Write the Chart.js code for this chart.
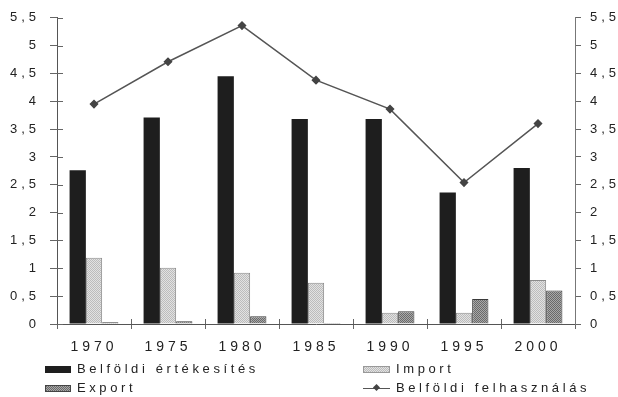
<!DOCTYPE html>
<html>
<head>
<meta charset="utf-8">
<script src="https://cdn.jsdelivr.net/npm/chart.js@4.4.0/dist/chart.umd.min.js"></script>
<style>
  html, body { margin: 0; padding: 0; background: #fff; }
  #wrap { position: relative; width: 618px; height: 397px; }
  canvas { position: absolute; left: 0; top: 0; }
  .lg { position: absolute; font: 13px "Liberation Sans", Arial, sans-serif; letter-spacing: 3.6px; color: #222; line-height: 14px; white-space: nowrap; }
  .sw { position: absolute; }
</style>
</head>
<body>
<div id="wrap">
  <canvas id="c" width="618" height="397"></canvas>
  <div class="sw" style="left:45px;top:366px;width:26px;height:7px;background:#1e1e1e;"></div>
  <div class="lg" style="left:77px;top:362px;">Belföldi értékesítés</div>
  <div class="sw" id="swImp" style="left:363px;top:366px;border:1px solid #999;width:25px;height:5px;"></div>
  <div class="lg" style="left:396px;top:362px;">Import</div>
  <div class="sw" id="swExp" style="left:45px;top:385px;border:1px solid #444;width:24px;height:5px;"></div>
  <div class="lg" style="left:77px;top:381px;">Export</div>
  <div style="position:absolute;left:363px;top:388px;width:27px;height:1px;background:#555;"></div>
  <div style="position:absolute;left:374px;top:385px;width:5px;height:5px;background:#444;transform:rotate(45deg);"></div>
  <div class="lg" style="left:396px;top:381px;">Belföldi felhasználás</div>
</div>
<script>
const categories = ['1970', '1975', '1980', '1985', '1990', '1995', '2000'];
const belfoldiErtekesites = [2.76, 3.71, 4.45, 3.68, 3.68, 2.36, 2.80];
const importValues = [1.19, 1.01, 0.92, 0.74, 0.20, 0.20, 0.79];
const exportValues = [0.03, 0.05, 0.14, 0.02, 0.23, 0.45, 0.60];
const belfoldiFelhasznalas = [3.95, 4.71, 5.36, 4.38, 3.86, 2.54, 3.60];
const yMin = 0, yMax = 5.5, yStep = 0.5;

function makePattern(c1, c2) {
  const p = document.createElement('canvas');
  p.width = 2; p.height = 2;
  const g = p.getContext('2d');
  g.fillStyle = c1; g.fillRect(0, 0, 2, 2);
  g.fillStyle = c2; g.fillRect(0, 0, 1, 1); g.fillRect(1, 1, 1, 1);
  return p;
}
const ctx = document.getElementById('c').getContext('2d');
const impP = makePattern('#e2e2e2', '#bcbcbc');
const expP = makePattern('#a8a8a8', '#6a6a6a');
const impPattern = ctx.createPattern(impP, 'repeat');
const expPattern = ctx.createPattern(expP, 'repeat');
document.getElementById('swImp').style.background = 'url(' + impP.toDataURL() + ')';
document.getElementById('swExp').style.background = 'url(' + expP.toDataURL() + ')';

const tickFmt = v => String(v).replace('.', ',');

const spacingPlugin = {
  id: 'spacing',
  beforeUpdate(chart) { chart.ctx.letterSpacing = '4px'; },
  beforeDraw(chart) { chart.ctx.letterSpacing = '4px'; }
};
const crossTicks = {
  id: 'crossTicks',
  afterDraw(chart) {
    const c = chart.ctx, x = chart.scales.x, y = chart.scales.y;
    c.save();
    c.strokeStyle = '#666'; c.lineWidth = 1;
    c.beginPath();
    for (let i = 0; i < categories.length - 1; i++) {
      const px = Math.round((x.getPixelForValue(i) + x.getPixelForValue(i + 1)) / 2) + 0.5;
      c.moveTo(px, y.bottom - 5); c.lineTo(px, y.bottom);
    }
    for (let v = yMin; v <= yMax + 1e-9; v += yStep) {
      const py = Math.round(y.getPixelForValue(v)) + 0.5;
      c.moveTo(y.right, py); c.lineTo(y.right + 6, py);
    }
    c.stroke();
    c.restore();
  }
};

const font = { family: '"Liberation Sans", Arial, sans-serif', size: 13 };

new Chart(ctx, {
  type: 'bar',
  data: {
    labels: categories,
    datasets: [
      { type: 'line', label: 'Belföldi felhasználás', data: belfoldiFelhasznalas, yAxisID: 'y',
        borderColor: '#555', borderWidth: 1.5, pointStyle: 'rectRot', pointRadius: 3.5,
        pointBackgroundColor: '#444', pointBorderColor: '#444', tension: 0, order: 0 },
      { label: 'Belföldi értékesítés', data: belfoldiErtekesites, backgroundColor: '#1e1e1e',
        borderColor: '#1e1e1e', borderWidth: 0, order: 1 },
      { label: 'Import', data: importValues, backgroundColor: impPattern,
        borderColor: '#8a8a8a', borderWidth: 1, order: 1 },
      { label: 'Export', data: exportValues, backgroundColor: expPattern,
        borderColor: '#3a3a3a', borderWidth: 1, order: 1 }
    ]
  },
  options: {
    responsive: false,
    animation: false,
    layout: { padding: { top: 12, bottom: 43, left: 0, right: 0 } },
    plugins: { legend: { display: false }, tooltip: { enabled: false } },
    datasets: { bar: { categoryPercentage: 0.66, barPercentage: 1.0 } },
    scales: {
      x: {
        offset: true,
        grid: { display: true, offset: true, drawOnChartArea: false, drawTicks: true, tickLength: 5, color: '#666' },
        border: { display: true, color: '#555' },
        ticks: { font: { family: font.family, size: 14 }, color: '#222', padding: 10, maxRotation: 0 },
        afterFit(s) { s.height = 30; }
      },
      y: {
        position: 'left', min: yMin, max: yMax,
        grid: { display: true, drawOnChartArea: false, drawTicks: true, tickLength: 7, color: '#666' },
        border: { display: true, color: '#555' },
        ticks: { stepSize: yStep, font, color: '#222', padding: 10, callback: tickFmt },
        afterFit(s) { s.width = 57; }
      },
      y1: {
        position: 'right', min: yMin, max: yMax,
        grid: { display: true, drawOnChartArea: false, drawTicks: true, tickLength: 6, color: '#666' },
        border: { display: true, color: '#777' },
        ticks: { stepSize: yStep, font, color: '#222', padding: 9, callback: tickFmt },
        afterFit(s) { s.width = 43; }
      }
    }
  },
  plugins: [spacingPlugin, crossTicks]
});
</script>
</body>
</html>
